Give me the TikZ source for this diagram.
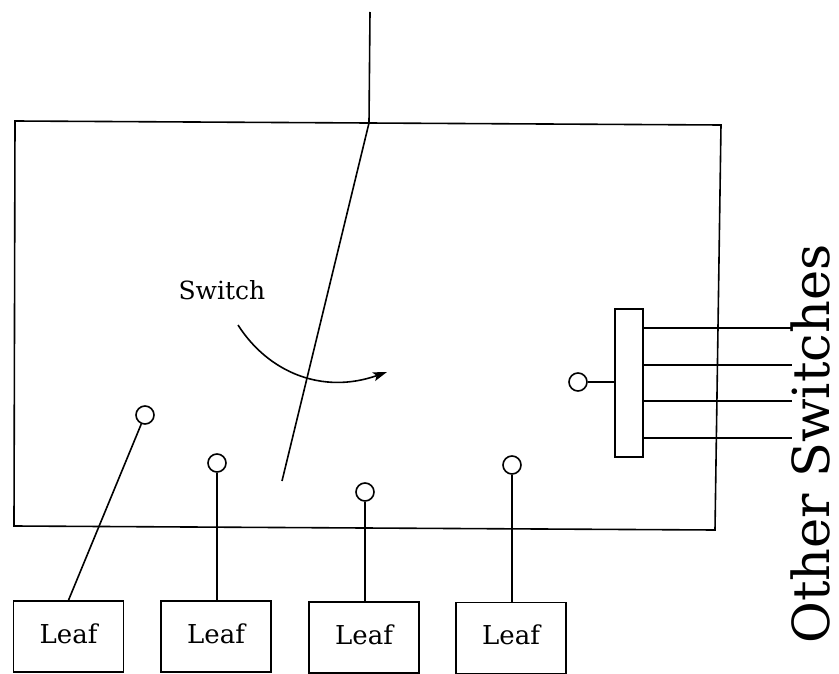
\documentclass[tikz,border=0pt]{standalone}
\usepackage{fontspec}
\setmainfont{DejaVu Serif}
\usetikzlibrary{arrows.meta}
\begin{document}
\begin{tikzpicture}[x=1pt,y=-1pt,line width=1.6pt,
  leafbox/.style={draw,rectangle,minimum width=110pt,minimum height=71pt,inner sep=0pt,text height=20pt,text depth=7pt,font=\fontsize{26}{30}\selectfont},
  port/.style={draw,circle,minimum size=18pt,inner sep=0pt},
  wire/.style={line width=1.6pt}]
\useasboundingbox (0,0) rectangle (839,674);
% switch enclosure
\draw (15,121) -- (721,125) -- (715,530) -- (14,526) -- cycle;
% switch lever
\coordinate (top) at (370,12);
\coordinate (pivot) at (369,123);
\coordinate (tip) at (282,481);
\draw[wire] (top) -- (pivot) -- (tip);
% label and arrow
\node[anchor=base east,inner sep=0pt,font=\fontsize{25}{28}\selectfont] (swlabel) at (266,299) {Switch};
\coordinate (arrs) at (238,325);
\coordinate (arre) at (387,372);
\draw[wire,-{Stealth[length=14pt,width=9pt,inset=3pt]}] (arrs) .. controls (268,372) and (322,395) .. (arre);
% ports
\node[port] (c1) at (145,415) {};
\node[port] (c2) at (217,463) {};
\node[port] (c3) at (365,492) {};
\node[port] (c4) at (512,465) {};
\node[port] (c5) at (578,382) {};
% leaves
\node[leafbox] (leaf1) at (68.5,636.5) {Leaf\hspace{12pt}};
\node[leafbox] (leaf2) at (216,636.5) {Leaf\hspace{12pt}};
\node[leafbox] (leaf3) at (364,637.5) {Leaf\hspace{12pt}};
\node[leafbox] (leaf4) at (511,638) {Leaf\hspace{12pt}};
\draw[wire] (c1) -- (leaf1.north);
\draw[wire] (c2) -- (c2 |- leaf2.north);
\draw[wire] (c3) -- (c3 |- leaf3.north);
\draw[wire] (c4) -- (c4 |- leaf4.north);
% trunk bar
\node[draw,rectangle,minimum width=28pt,minimum height=148pt,inner sep=0pt] (bar) at (629,383) {};
\draw[wire] (c5) -- (bar.west |- c5);
\coordinate (o1) at (792,328);
\coordinate (o2) at (792,365);
\coordinate (o3) at (792,401);
\coordinate (o4) at (792,438);
\foreach \i in {1,...,4} \draw[wire] (bar.east |- o\i) -- (o\i);
\node[rotate=90,anchor=base,inner sep=0pt,text depth=0pt,font=\fontsize{51}{58}\selectfont] (other) at (829,444) {Other Switches};
\end{tikzpicture}
\end{document}
